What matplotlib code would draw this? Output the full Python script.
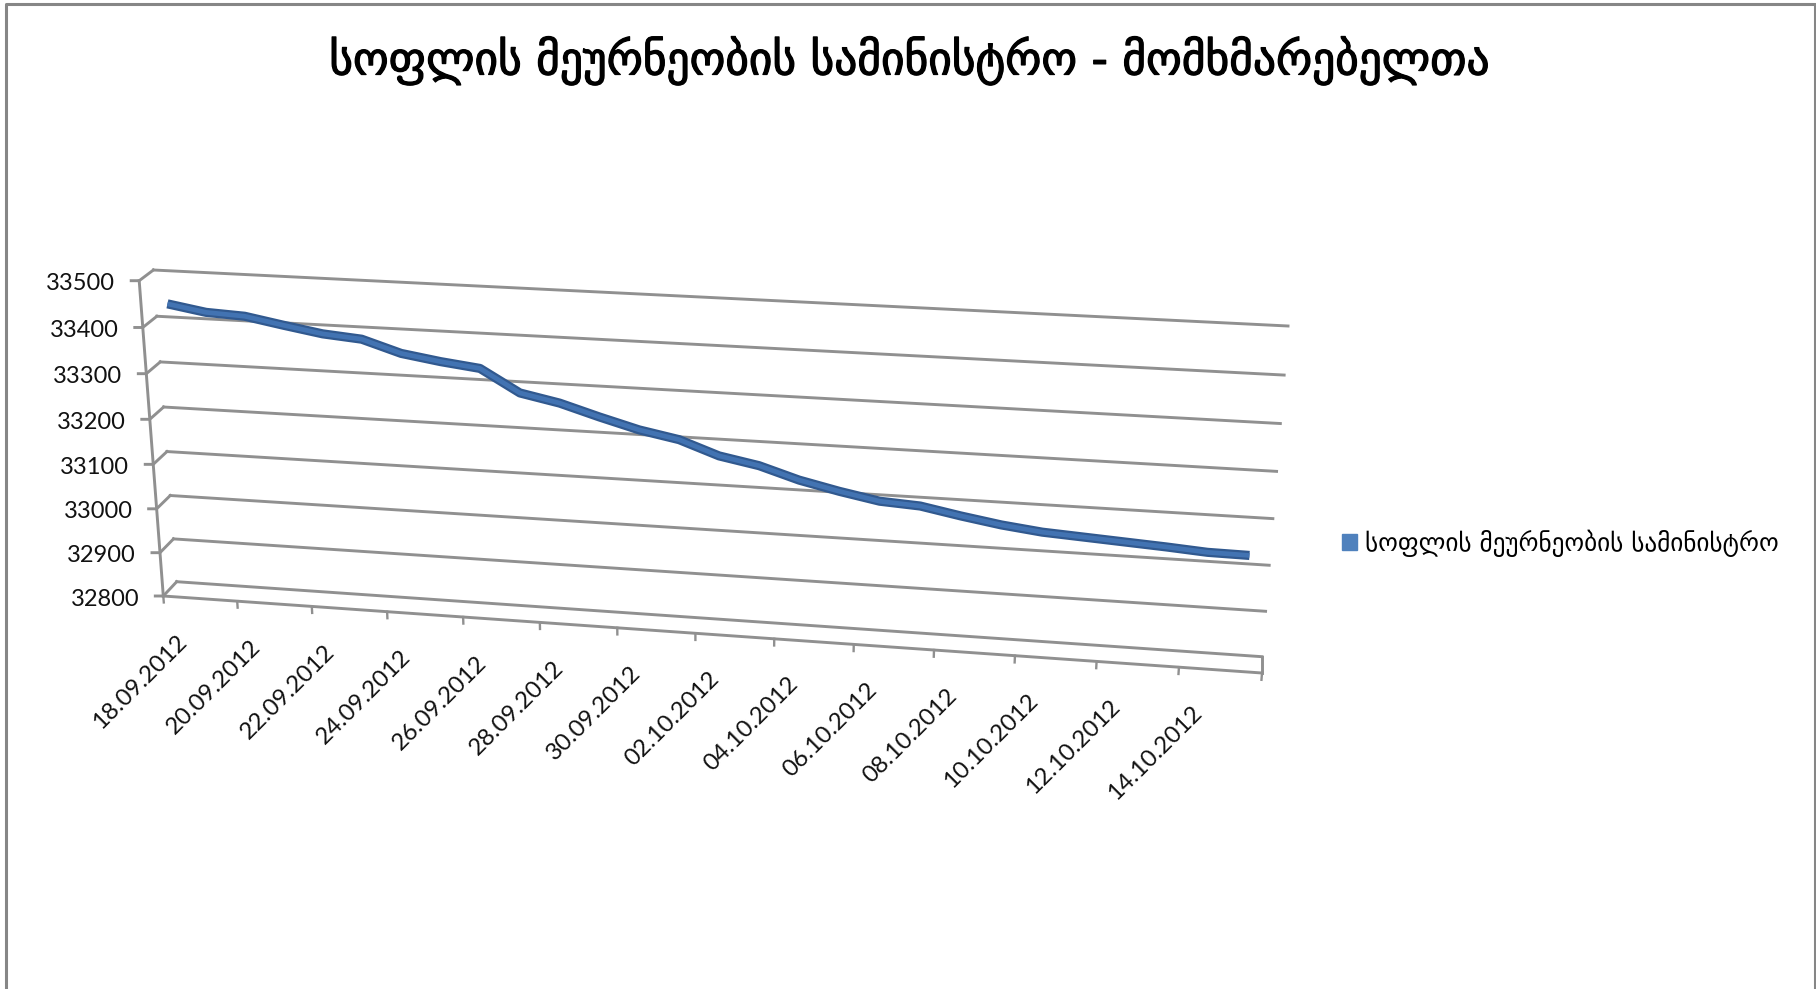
import matplotlib
matplotlib.use("Agg")
import numpy as np
import matplotlib.pyplot as plt
import matplotlib.patheffects as pe
from matplotlib.patches import Patch
from matplotlib.transforms import Transform, Affine2D

title = "სოფლის მეურნეობის სამინისტრო - მომხმარებელთა"
series_name = "სოფლის მეურნეობის სამინისტრო"

# one value per day, 18.09.2012 - 15.10.2012
customers = [33441, 33427, 33423, 33408, 33394, 33387, 33361, 33348, 33338, 33290,
             33273, 33248, 33225, 33209, 33179, 33163, 33137, 33118, 33102, 33097,
             33081, 33067, 33057, 33052, 33047, 33042, 33036, 33035]
y_ticks = [33500, 33400, 33300, 33200, 33100, 33000, 32900, 32800]
date_labels = ["18.09.2012", "20.09.2012", "22.09.2012", "24.09.2012", "26.09.2012",
               "28.09.2012", "30.09.2012", "02.10.2012", "04.10.2012", "06.10.2012",
               "08.10.2012", "10.10.2012", "12.10.2012", "14.10.2012"]

W, H = 1816, 989
n_days = len(customers)
y_min, y_max = min(y_ticks), max(y_ticks)

# fake excel 3d box, corners in image pixels: (top left, bottom left, bottom right, top right)
FRONT = np.array([[139.2, 280.7], [163.3, 596.0], [1262.0, 673.0], [1288.0, 340.0]])
BACK = np.array([[153.4, 270.0], [176.7, 581.7], [1262.0, 656.7], [1288.0, 326.0]])
BOW = 69 / 1099  # days get a bit wider to the right
SAG = 0.045  # middle gridlines sit slightly low


class WallTransform(Transform):
    input_dims = 2
    output_dims = 2

    def __init__(self, wall_depth):
        super().__init__()
        self.wall_depth = wall_depth

    def transform_non_affine(self, values):
        values = np.asarray(values, dtype=float)
        u = values[:, 0] / n_days
        v = (values[:, 1] - y_min) / (y_max - y_min)
        v = v - SAG * v * (1 - v)
        s = (u * (1 - BOW) + BOW * u * u)[:, None]
        v = v[:, None]
        c = FRONT + (BACK - FRONT) * self.wall_depth
        left = c[1] + (c[0] - c[1]) * v
        right = c[2] + (c[3] - c[2]) * v
        return left + (right - left) * s


fig = plt.figure(figsize=(W / 100, H / 100), dpi=100)
ax = fig.add_axes([0, 0, 1, 1])
ax.set_xlim(0, W)
ax.set_ylim(H, 0)
ax.axis("off")


def wall(depth, dx=0, dy=0):
    return WallTransform(depth) + Affine2D().translate(dx, dy) + ax.transData


grid_color = "#909090"
grid_w = 2.1
front = wall(0)
back = wall(1)

# chart border, open at the bottom
ax.plot([6, 6, 1814.5, 1814.5], [H, 3.5, 3.5, H], color="#868686", lw=2.2)

# gridlines on back wall + the short pieces to the front axis
for val in y_ticks:
    ax.plot([0, n_days], [val, val], color=grid_color, lw=grid_w, transform=back)
    p0 = WallTransform(0).transform([[0, val]])[0]
    p1 = WallTransform(1).transform([[0, val]])[0]
    ax.plot([p0[0] - 8, p0[0], p1[0]], [p0[1], p0[1], p1[1]], color=grid_color, lw=grid_w)
    ax.text(0, val, str(val), transform=wall(0, -24, 3), ha="right", va="center",
            fontsize=17, family="Lato", color="#111111")

# value axis and floor front edge
ax.plot([0, 0], [y_min, y_max], color=grid_color, lw=grid_w, transform=front)
ax.plot([0, n_days], [y_min, y_min], color=grid_color, lw=grid_w, transform=front)
pr0 = WallTransform(0).transform([[n_days, y_min]])[0]
pr1 = WallTransform(1).transform([[n_days, y_min]])[0]
ax.plot([pr0[0], pr1[0]], [pr0[1], pr1[1]], color=grid_color, lw=grid_w)

# date ticks every 2 days
tick_days = np.arange(0, n_days + 1, 2)
for d in tick_days:
    ax.plot([d, d], [y_min, y_min - 15], color=grid_color, lw=1.7, transform=front)
for d, lab in zip(tick_days, date_labels):
    ax.text(d, y_min, lab, transform=wall(0, 20, 42), rotation=45, rotation_mode="anchor",
            ha="right", va="center", fontsize=17.3, family="Lato", color="#111111")

# the series ribbon sits half way in the box
days = np.arange(n_days) + 0.5
ax.plot(days, customers, color="#31598F", lw=6.6, solid_joinstyle="round",
        solid_capstyle="butt", transform=wall(0.5))
ax.plot(days, customers, color="#4273B2", lw=3.4, solid_joinstyle="round",
        solid_capstyle="butt", transform=wall(0.5))

ax.text(909, 61, title, ha="center", va="center", fontsize=32.7, color="black",
        path_effects=[pe.withStroke(linewidth=0.9, foreground="black")])

leg = ax.legend(handles=[Patch(facecolor="#4F81BD", edgecolor="#4F81BD", label=series_name)],
                loc="center left", bbox_to_anchor=(1342 / W, 1 - 543 / H), frameon=False,
                fontsize=18.1, handlelength=0.6, handleheight=0.6, handletextpad=0.3,
                borderpad=0, borderaxespad=0)

fig.savefig("out.png", dpi=100)
